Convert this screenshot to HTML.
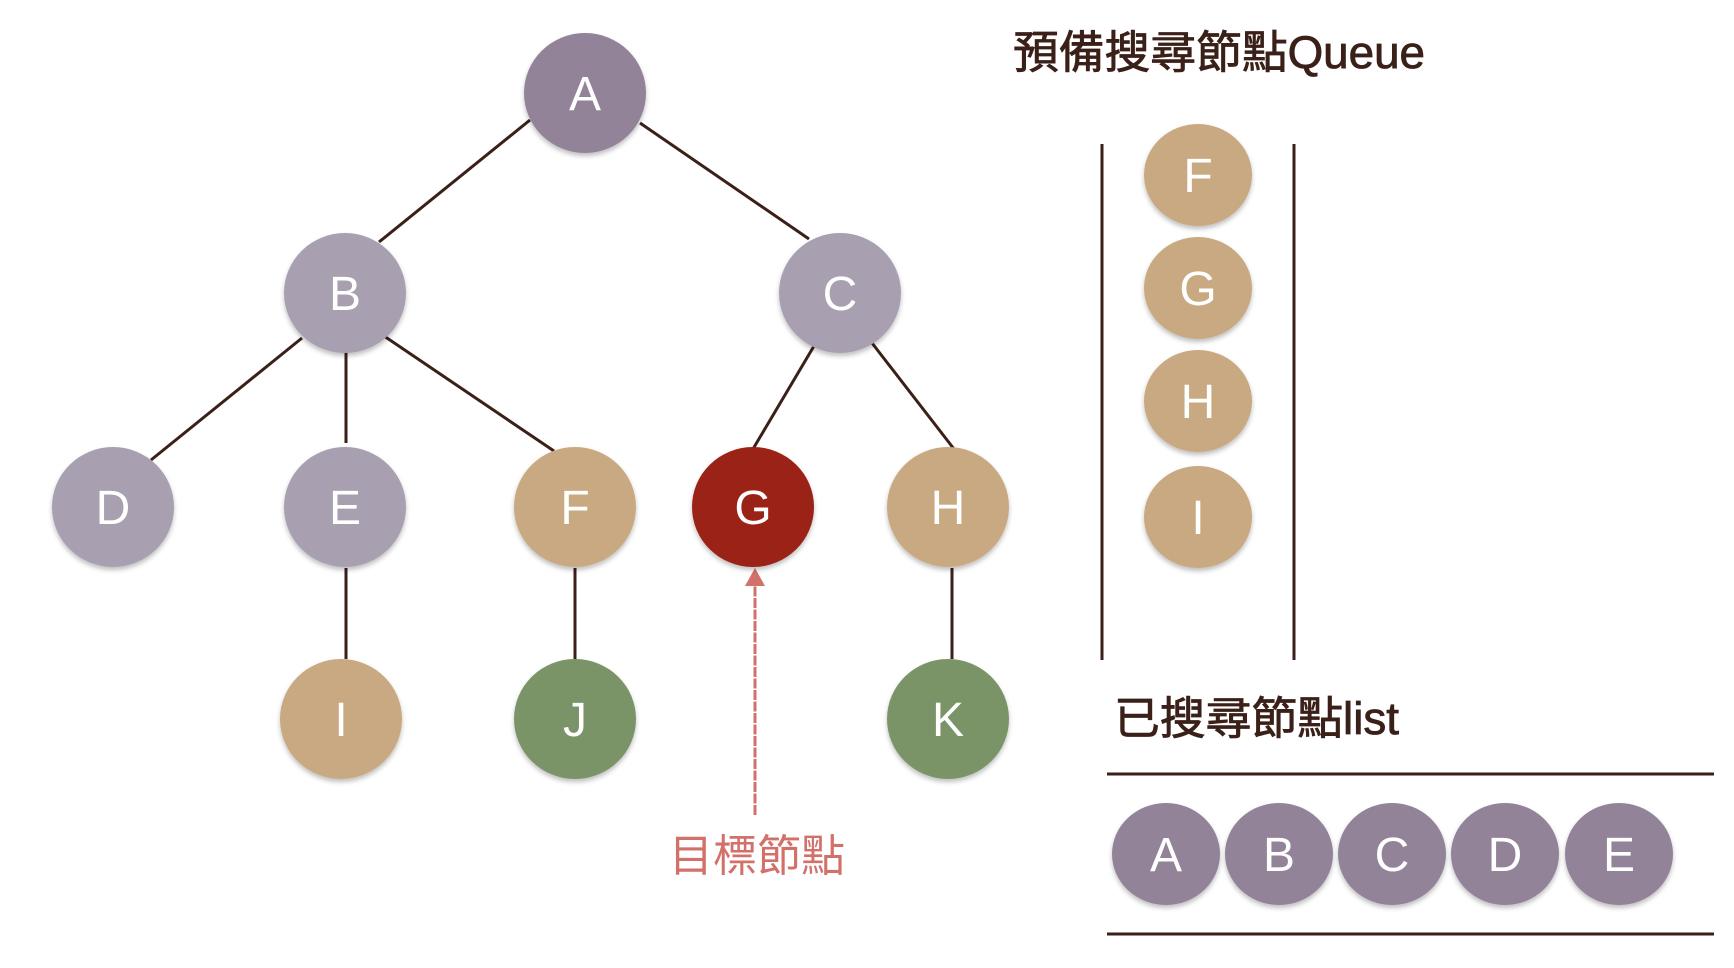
<!DOCTYPE html>
<html><head><meta charset="utf-8"><style>
html,body{margin:0;padding:0;background:#fff;}
svg{display:block;}
text{font-family:"Liberation Sans","Noto Sans CJK TC",sans-serif;}
</style></head><body>
<svg width="1734" height="968" viewBox="0 0 1734 968" xmlns="http://www.w3.org/2000/svg">
<defs>
<filter id="sh" x="-20%" y="-20%" width="140%" height="150%"><feDropShadow dx="0" dy="3" stdDeviation="2.5" flood-color="#000" flood-opacity="0.25"/></filter>
</defs>
<g stroke="#3a2019" stroke-width="3" fill="none">
<line x1="530" y1="120" x2="379" y2="242"/>
<line x1="640" y1="123" x2="809" y2="239"/>
<line x1="302" y1="338" x2="151" y2="460"/>
<line x1="346" y1="352" x2="346" y2="443"/>
<line x1="384" y1="336" x2="554" y2="451"/>
<line x1="814" y1="346" x2="753" y2="449"/>
<line x1="872" y1="343" x2="954" y2="449"/>
<line x1="346" y1="568" x2="346" y2="659"/>
<line x1="575" y1="568" x2="575" y2="659"/>
<line x1="952" y1="568" x2="952" y2="659"/>
<line x1="1102" y1="144" x2="1102" y2="660"/>
<line x1="1294" y1="144" x2="1294" y2="660"/>
<line x1="1107" y1="774" x2="1714" y2="774"/>
<line x1="1107" y1="934" x2="1714" y2="934"/>
</g>
<line x1="755" y1="815" x2="755" y2="580" stroke="#d2706a" stroke-width="3" stroke-dasharray="10,1.5"/>
<polygon points="755,568 745,586 765,586" fill="#d2706a"/>
<g filter="url(#sh)">
<ellipse cx="585" cy="93" rx="61" ry="60" fill="#928399"/>
<ellipse cx="345" cy="293" rx="61" ry="60" fill="#a89fb0"/>
<ellipse cx="840" cy="293" rx="61" ry="60" fill="#a89fb0"/>
<ellipse cx="113" cy="507" rx="61" ry="60" fill="#a89fb0"/>
<ellipse cx="345" cy="507" rx="61" ry="60" fill="#a89fb0"/>
<ellipse cx="575" cy="507" rx="61" ry="60" fill="#c9a981"/>
<ellipse cx="753" cy="507" rx="61" ry="60" fill="#9b2418"/>
<ellipse cx="948" cy="507" rx="61" ry="60" fill="#c9a981"/>
<ellipse cx="341" cy="719" rx="61" ry="60" fill="#c9a981"/>
<ellipse cx="575" cy="719" rx="61" ry="60" fill="#7a9468"/>
<ellipse cx="948" cy="719" rx="61" ry="60" fill="#7a9468"/>
<ellipse cx="1198" cy="175" rx="54" ry="51" fill="#c9a981"/>
<ellipse cx="1198" cy="288" rx="54" ry="51" fill="#c9a981"/>
<ellipse cx="1198" cy="401" rx="54" ry="51" fill="#c9a981"/>
<ellipse cx="1198" cy="517" rx="54" ry="51" fill="#c9a981"/>
<ellipse cx="1166" cy="854" rx="54" ry="51" fill="#928399"/>
<ellipse cx="1279" cy="854" rx="54" ry="51" fill="#928399"/>
<ellipse cx="1392" cy="854" rx="54" ry="51" fill="#928399"/>
<ellipse cx="1505" cy="854" rx="54" ry="51" fill="#928399"/>
<ellipse cx="1619" cy="854" rx="54" ry="51" fill="#928399"/>
</g>
<g fill="#fff" font-size="48" text-anchor="middle">
<text x="585" y="110">A</text>
<text x="345" y="310">B</text>
<text x="840" y="310">C</text>
<text x="113" y="524">D</text>
<text x="345" y="524">E</text>
<text x="575" y="524">F</text>
<text x="753" y="524">G</text>
<text x="948" y="524">H</text>
<text x="341" y="736">I</text>
<text x="575" y="736">J</text>
<text x="948" y="736">K</text>
<text x="1198" y="192">F</text>
<text x="1198" y="305">G</text>
<text x="1198" y="418">H</text>
<text x="1198" y="534">I</text>
<text x="1166" y="871">A</text>
<text x="1279" y="871">B</text>
<text x="1392" y="871">C</text>
<text x="1505" y="871">D</text>
<text x="1619" y="871">E</text>
</g>
<text x="1013" y="68" font-size="45" fill="#3a2019" stroke="#3a2019" stroke-width="0.8" textLength="412" lengthAdjust="spacingAndGlyphs">預備搜尋節點Queue</text>
<text x="1114" y="734" font-size="45" fill="#3a2019" stroke="#3a2019" stroke-width="0.8" textLength="285" lengthAdjust="spacingAndGlyphs">已搜尋節點list</text>
<text x="757" y="871" font-size="44" fill="#d2706a" text-anchor="middle">目標節點</text>
</svg>
</body></html>
